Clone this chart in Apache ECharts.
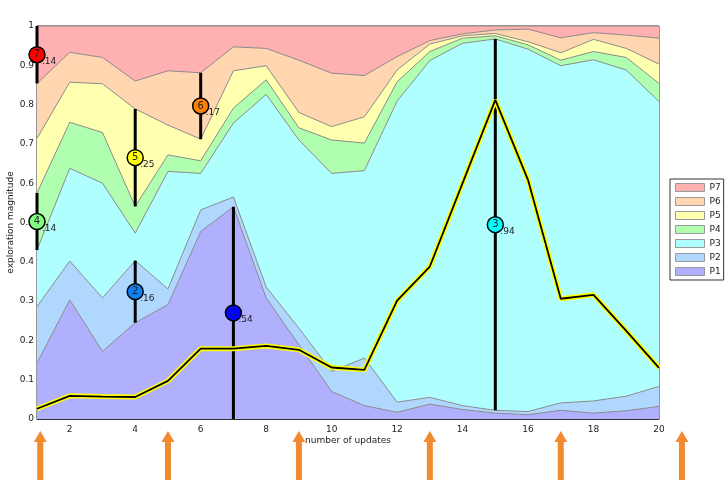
<!DOCTYPE html>
<html lang="en">
<head>
<meta charset="UTF-8">
<title>exploration magnitude</title>
<script src="https://cdn.jsdelivr.net/npm/echarts@6/dist/echarts.min.js"></script>
<style>
  html, body { margin: 0; padding: 0; background: #fff; }
  #main { width: 728px; height: 480px; }
</style>
</head>
<body>
<div id="main"></div>
<script>
// number of updates (x)
var updates = [1, 2, 3, 4, 5, 6, 7, 8, 9, 10, 11, 12, 13, 14, 15, 16, 17, 18, 19, 20];

// stacked layer values, bottom (P1) to top (P7)
var p1 = [0.142, 0.303, 0.172, 0.245, 0.291, 0.477, 0.540, 0.308, 0.189, 0.070, 0.034, 0.017, 0.038, 0.024, 0.015, 0.011, 0.022, 0.015, 0.021, 0.032];
var p2 = [0.144, 0.099, 0.136, 0.158, 0.040, 0.055, 0.025, 0.028, 0.042, 0.051, 0.121, 0.026, 0.017, 0.010, 0.007, 0.008, 0.019, 0.031, 0.037, 0.051];
var p3 = [0.144, 0.236, 0.292, 0.070, 0.299, 0.093, 0.188, 0.490, 0.479, 0.504, 0.477, 0.766, 0.857, 0.922, 0.945, 0.922, 0.858, 0.868, 0.830, 0.725];
var p4 = [0.145, 0.117, 0.129, 0.068, 0.042, 0.032, 0.038, 0.037, 0.031, 0.085, 0.070, 0.049, 0.023, 0.013, 0.008, 0.011, 0.014, 0.021, 0.032, 0.046];
var p5 = [0.139, 0.102, 0.124, 0.248, 0.076, 0.055, 0.095, 0.036, 0.039, 0.034, 0.067, 0.030, 0.019, 0.006, 0.006, 0.008, 0.019, 0.031, 0.023, 0.049];
var p6 = [0.140, 0.076, 0.067, 0.071, 0.138, 0.169, 0.061, 0.044, 0.133, 0.136, 0.105, 0.034, 0.009, 0.005, 0.009, 0.032, 0.038, 0.017, 0.034, 0.066];
var p7 = [0.146, 0.067, 0.080, 0.140, 0.114, 0.119, 0.053, 0.057, 0.087, 0.120, 0.126, 0.078, 0.037, 0.020, 0.010, 0.008, 0.030, 0.017, 0.023, 0.031];

// the yellow/black line
var highlight = [0.026, 0.059, 0.057, 0.056, 0.097, 0.179, 0.179, 0.186, 0.176, 0.131, 0.125, 0.301, 0.388, 0.600, 0.812, 0.608, 0.306, 0.316, 0.224, 0.130];

var names = ['P1', 'P2', 'P3', 'P4', 'P5', 'P6', 'P7'];
var fills = ['#b0b0ff', '#b0d8ff', '#b0ffff', '#b0ffb0', '#ffffb0', '#ffd6b0', '#ffb0b0'];

// peak markers, one per layer (P1..P7)
var markerX = [7, 4, 15, 1, 4, 6, 1];
var markerText = ['.54', '.16', '.94', '.14', '.25', '.17', '.14'];
var markerColor = ['#0000ff', '#1080f0', '#00ffff', '#80ff80', '#ffff00', '#ff8000', '#ff0000'];

// orange arrows under the axis
var arrowX = [1.1, 5, 9, 13, 17, 20.7];

// running totals so each layer sits on the ones below it
var layers = [p1, p2, p3, p4, p5, p6, p7];
var cum = [];
for (var k = 0; k < layers.length; k++) {
    cum.push(layers[k].map(function (v, i) { return v + (k > 0 ? cum[k - 1][i] : 0); }));
}
function bounds(k, x) {
    var i = updates.indexOf(x);
    return [k > 0 ? cum[k - 1][i] : 0, cum[k][i]];
}

var font = 'DejaVu Sans';
var series = [];
// top layer first, each lower layer painted over it
for (var k = layers.length - 1; k >= 0; k--) {
    series.push({
        name: names[k],
        type: 'line',
        symbol: 'none',
        color: fills[k],
        data: updates.map(function (x, i) { return [x, cum[k][i]]; }),
        lineStyle: { color: '#8c8c8c', width: 1 },
        areaStyle: { color: fills[k], opacity: 1, origin: 'start' },
        z: 1
    });
}

// vertical black segments
series.push({
    type: 'custom',
    z: 3,
    silent: true,
    clip: false,
    data: markerX.map(function (x, k) { var b = bounds(k, x); return [x, (b[0] + b[1]) / 2, k]; }),
    encode: { x: 0, y: 1 },
    renderItem: function (params, api) {
        var x = api.value(0), k = api.value(2);
        var b = bounds(k, x);
        var a = api.coord([x, b[0]]), c = api.coord([x, b[1]]);
        return { type: 'line', shape: { x1: a[0], y1: a[1], x2: c[0], y2: c[1] },
                 style: { stroke: '#000', lineWidth: 3 } };
    }
});

// highlighted line: yellow halo with black core
series.push({
    type: 'line', symbol: 'none', z: 4, silent: true,
    data: updates.map(function (x, i) { return [x, highlight[i]]; }),
    lineStyle: { color: '#ffff00', width: 5 }
});
series.push({
    type: 'line', symbol: 'none', z: 4, silent: true,
    data: updates.map(function (x, i) { return [x, highlight[i]]; }),
    lineStyle: { color: '#000', width: 1.8 }
});

// circles with numbers and labels
series.push({
    type: 'custom',
    z: 5,
    silent: true,
    clip: false,
    data: markerX.map(function (x, k) { var b = bounds(k, x); return [x, (b[0] + b[1]) / 2, k]; }),
    encode: { x: 0, y: 1 },
    renderItem: function (params, api) {
        var k = api.value(2);
        var p = api.coord([api.value(0), api.value(1)]);
        return {
            type: 'group',
            children: [
                { type: 'circle', shape: { cx: p[0], cy: p[1], r: 8 },
                  style: { fill: markerColor[k], stroke: '#000', lineWidth: 1.5 } },
                { type: 'text', x: p[0], y: p[1],
                  style: { text: String(k + 1), fill: '#222', font: '10px ' + font, align: 'center', verticalAlign: 'middle' } },
                { type: 'text', x: p[0] + 5, y: p[1] + 7,
                  style: { text: markerText[k], fill: '#222', font: '9px ' + font, align: 'left', verticalAlign: 'middle' } }
            ]
        };
    }
});

// arrows below the x axis
series.push({
    type: 'custom',
    z: 6,
    silent: true,
    clip: false,
    data: arrowX.map(function (x) { return [x, 0]; }),
    encode: { x: 0, y: 1 },
    renderItem: function (params, api) {
        var p = api.coord([api.value(0), 0]);
        var cx = p[0], top = p[1] + 12, neck = top + 11;
        return {
            type: 'polygon',
            shape: { points: [[cx, top], [cx + 6.5, neck], [cx + 3, neck], [cx + 3, 484],
                              [cx - 3, 484], [cx - 3, neck], [cx - 6.5, neck]] },
            style: { fill: '#f28a30' }
        };
    }
});

var myChart = echarts.init(document.getElementById('main'));
myChart.setOption({
    animation: false,
    textStyle: { fontFamily: font },
    grid: {
        left: 37, right: 69, top: 26, bottom: 61,
        outerBoundsMode: 'none',
        show: true, borderColor: '#333', borderWidth: 1
    },
    legend: {
        orient: 'vertical',
        left: 670,
        top: 179,
        icon: 'rect',
        itemWidth: 29,
        itemHeight: 8,
        itemGap: 5,
        padding: [4, 3, 4, 5],
        borderColor: '#333',
        borderWidth: 1,
        textStyle: { fontSize: 9, color: '#222', lineHeight: 8 },
        data: names.slice().reverse().map(function (n) {
            return { name: n, itemStyle: { color: fills[names.indexOf(n)], borderColor: '#999', borderWidth: 1 } };
        })
    },
    xAxis: {
        type: 'value',
        min: 1,
        max: 20,
        interval: 1,
        name: 'number of updates',
        nameLocation: 'middle',
        nameGap: 17,
        nameMoveOverlap: false,
        nameTextStyle: { fontSize: 9, color: '#222' },
        axisLine: { lineStyle: { color: '#333' } },
        axisTick: { show: false },
        splitLine: { show: false },
        axisLabel: {
            fontSize: 9, color: '#222', margin: 6,
            formatter: function (v) { return v % 2 === 0 ? String(v) : ''; }
        }
    },
    yAxis: {
        type: 'value',
        min: 0,
        max: 1,
        interval: 0.1,
        name: 'exploration magnitude',
        nameLocation: 'middle',
        nameGap: 22,
        nameMoveOverlap: false,
        nameTextStyle: { fontSize: 9, color: '#222' },
        axisLine: { show: true, lineStyle: { color: '#333' } },
        axisTick: { show: false },
        splitLine: { show: false },
        axisLabel: {
            fontSize: 9, color: '#222', margin: 3,
            formatter: function (v) { return (v === 0 || v === 1) ? String(v) : v.toFixed(1); }
        }
    },
    series: series
});
</script>
</body>
</html>
